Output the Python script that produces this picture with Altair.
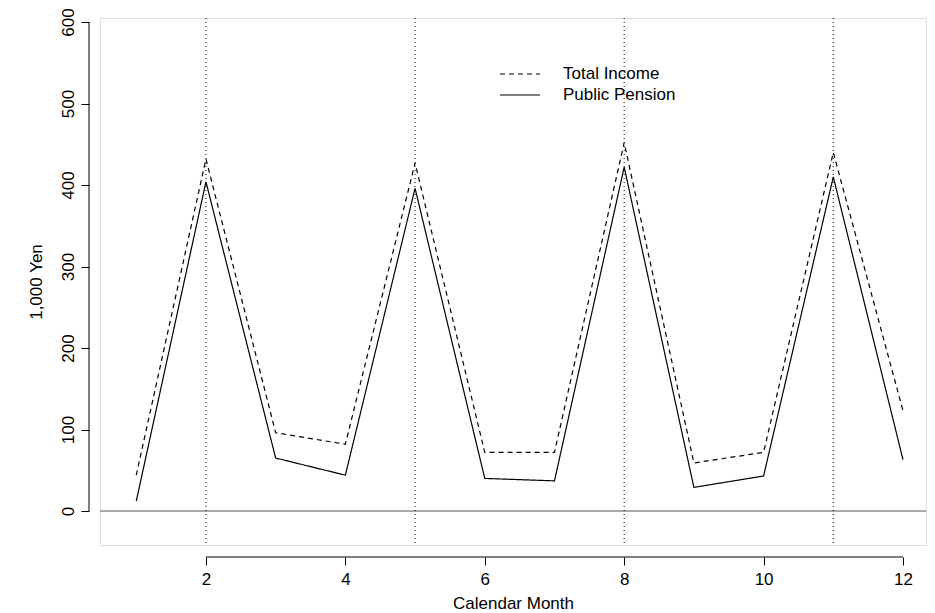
import altair as alt
import pandas as pd

months = list(range(1, 13))
total_income = [44, 432, 96, 82, 427, 72, 72, 452, 59, 72, 440, 123]
public_pension = [12, 404, 65, 44, 396, 40, 37, 422, 29, 43, 410, 63]
pay_months = [2, 5, 8, 11]
series_names = ["Total Income", "Public Pension"]

df = pd.DataFrame({
    "month": months * 2,
    "value": total_income + public_pension,
    "series": [series_names[0]] * 12 + [series_names[1]] * 12,
})

FONT = "Liberation Sans"
xs = alt.Scale(domain=[0.48, 12.33], nice=False, zero=False)
ys = alt.Scale(domain=[-41.7, 605], nice=False, zero=False)

x_axis = alt.Axis(values=[2, 4, 6, 8, 10, 12], format="d", title="Calendar Month", grid=False, domain=False,
                  offset=12, tickSize=8, tickColor="black", labelFont=FONT, labelFontSize=17,
                  labelColor="black", titleFont=FONT, titleFontSize=17, titleFontWeight="normal",
                  titleColor="black", titlePadding=8, labelPadding=6)
y_axis = alt.Axis(values=[0, 100, 200, 300, 400, 500, 600], title="1,000 Yen", grid=False,
                  domain=False, offset=11, tickSize=8, tickColor="black", labelAngle=-90,
                  labelAlign="center", labelBaseline="bottom", labelFont=FONT, labelFontSize=17,
                  labelColor="black", titleFont=FONT, titleFontSize=17, titleFontWeight="normal",
                  titleColor="black", titlePadding=14, labelPadding=4)

base = alt.Chart(df)
lines = base.mark_line(color="black", strokeWidth=1.2).encode(
    x=alt.X("month:Q", scale=xs, axis=x_axis),
    y=alt.Y("value:Q", scale=ys, axis=y_axis),
    strokeDash=alt.StrokeDash("series:N", scale=alt.Scale(domain=series_names, range=[[5, 4], [1, 0]]), legend=None),
    detail="series:N",
)

vlines = alt.Chart(pd.DataFrame({"m": pay_months})).mark_rule(color="black", strokeDash=[1, 3], strokeWidth=1).encode(
    x=alt.X("m:Q", scale=xs))
zero = alt.Chart(pd.DataFrame({"z": [0]})).mark_rule(color="#555555", strokeWidth=1).encode(
    y=alt.Y("z:Q", scale=ys))

# R-style detached axis lines
xline = alt.Chart(pd.DataFrame({"a": [2], "b": [12]})).mark_rule(color="black").encode(
    x=alt.X("a:Q", scale=xs), x2="b:Q", y=alt.value(539))
yline = alt.Chart(pd.DataFrame({"a": [0], "b": [600]})).mark_rule(color="black").encode(
    y=alt.Y("a:Q", scale=ys), y2="b:Q", x=alt.value(-11))

# legend
leg = pd.DataFrame({"series": series_names, "yy": [56, 77]})
leg_lines = alt.Chart(leg).mark_rule(color="black", strokeWidth=1.2).encode(
    x=alt.value(400), x2=alt.value(440), y=alt.Y("yy:Q", scale=None),
    strokeDash=alt.StrokeDash("series:N", scale=alt.Scale(domain=series_names, range=[[5, 4], [1, 0]]), legend=None))
leg_text = alt.Chart(leg).mark_text(align="left", baseline="middle", font=FONT, fontSize=17, color="black").encode(
    x=alt.value(463), y=alt.Y("yy:Q", scale=None), text="series:N")

chart = alt.layer(zero, vlines, lines, xline, yline, leg_lines, leg_text).properties(
    width=826, height=527, autosize=alt.AutoSizeParams(type="none"),
    padding={"left": 92, "top": 10, "right": 1, "bottom": 66},
).configure_view(stroke="black", strokeWidth=1).configure(background="white")

chart.save("out.html", embed_options={"renderer": "svg", "actions": False})
